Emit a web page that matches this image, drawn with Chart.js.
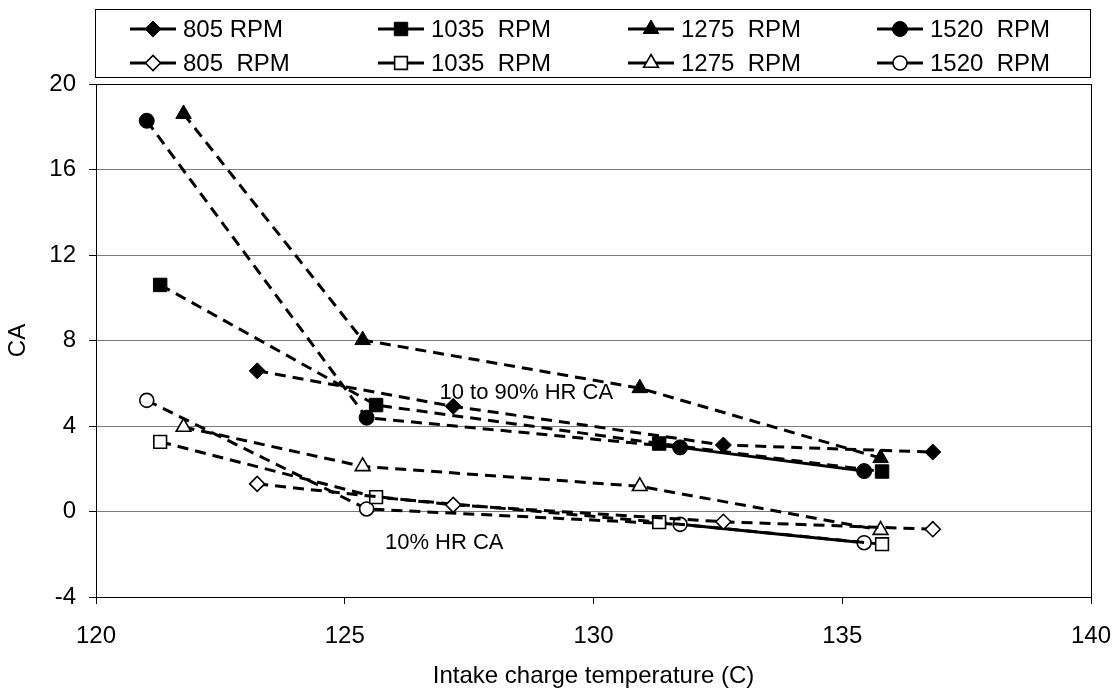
<!DOCTYPE html>
<html><head><meta charset="utf-8">
<script src="https://cdn.jsdelivr.net/npm/chart.js@4.4.1/dist/chart.umd.min.js"></script>
<style>html,body{margin:0;padding:0;background:#fff}#wrap{width:1116px;height:691px;position:relative}</style>
</head><body><div id="wrap"><canvas id="c" width="1116" height="691"></canvas></div>
<script>
// ---- data ----
const temps805  = [123.24, 127.18, 132.61, 136.82];
const temps1035 = [121.29, 125.63, 131.32, 135.80];
const temps1275 = [121.76, 125.36, 130.93, 135.77];
const temps1520 = [121.02, 125.44, 131.74, 135.44];

const hr90_805  = [6.58, 4.92, 3.11, 2.78];
const hr90_1035 = [10.60, 4.98, 3.18, 1.87];
const hr90_1275 = [18.60, 8.02, 5.77, 2.50];
const hr90_1520 = [18.28, 4.39, 3.00, 1.89];

const hr10_805  = [1.29, 0.31, -0.48, -0.83];
const hr10_1035 = [3.26, 0.67, -0.50, -1.53];
const hr10_1275 = [3.95, 2.11, 1.18, -0.87];
const hr10_1520 = [5.20, 0.12, -0.60, -1.46];

const seriesLabels = ['805 RPM','1035  RPM','1275  RPM','1520  RPM','805  RPM','1035  RPM','1275  RPM','1520  RPM'];
const xTickMin = 120, xTickMax = 140, xTickStep = 5;
const yTickMin = -4, yTickMax = 20, yTickStep = 4;
const xTitle = 'Intake charge temperature (C)';
const yTitle = 'CA';
const noteUpper = {text:'10 to 90% HR CA', x:128.65, y:5.55};
const noteLower = {text:'10% HR CA', x:127.0, y:-1.45};

const FONT = '"Liberation Sans", Arial, sans-serif';
const pts = (xs, ys) => xs.map((x,i)=>({x, y: ys[i]}));
const DASH = [11,7];

function mk(label, xs, ys, style, filled, radius, solidLast){
  return {
    label, data: pts(xs, ys), showLine: true,
    borderColor:'#000', borderWidth:3, borderDash: DASH,
    pointStyle: style, pointRadius: radius, pointHoverRadius: radius,
    pointBackgroundColor: filled ? '#000' : '#fff',
    pointBorderColor:'#000', pointBorderWidth: filled ? 1 : 1.6,
    segment: solidLast ? { borderDash: c => c.p0DataIndex === 2 ? [] : DASH } : undefined
  };
}

const datasets = [
  mk(seriesLabels[0], temps805,  hr90_805,  'rectRot',  true, 8),
  mk(seriesLabels[1], temps1035, hr90_1035, 'rect',     true, 9.5),
  mk(seriesLabels[2], temps1275, hr90_1275, 'triangle', true, 9),
  mk(seriesLabels[3], temps1520, hr90_1520, 'circle',   true, 7.5, true),
  mk(seriesLabels[4], temps805,  hr10_805,  'rectRot',  false, 7.5),
  mk(seriesLabels[5], temps1035, hr10_1035, 'rect',     false, 9),
  mk(seriesLabels[6], temps1275, hr10_1275, 'triangle', false, 8.5),
  mk(seriesLabels[7], temps1520, hr10_1520, 'circle',   false, 7, true)
];

function drawMarker(ctx, style, r, x, y){
  ctx.beginPath();
  if (style === 'circle') ctx.arc(x, y, r, 0, Math.PI*2);
  else if (style === 'rect') { const s = Math.SQRT1_2*r; ctx.rect(x-s, y-s, 2*s, 2*s); }
  else if (style === 'rectRot') { ctx.moveTo(x-r,y); ctx.lineTo(x,y-r); ctx.lineTo(x+r,y); ctx.lineTo(x,y+r); ctx.closePath(); }
  else if (style === 'triangle') {
    let a = 0;
    ctx.moveTo(x+Math.sin(a)*r, y-Math.cos(a)*r); a += 2*Math.PI/3;
    ctx.lineTo(x+Math.sin(a)*r, y-Math.cos(a)*r); a += 2*Math.PI/3;
    ctx.lineTo(x+Math.sin(a)*r, y-Math.cos(a)*r); ctx.closePath();
  }
  ctx.fill(); ctx.stroke();
}

const legendCols = [130, 378, 628, 877];
const legendRows = [29, 63];

const framePlugin = {
  id:'frame',
  beforeDatasetsDraw(chart){
    const {ctx, chartArea:a} = chart;
    ctx.save(); ctx.strokeStyle='#000'; ctx.lineWidth=1; ctx.setLineDash([]);
    ctx.strokeRect(Math.round(a.left)+0.5, Math.round(a.top)+0.5, Math.round(a.right-a.left), Math.round(a.bottom-a.top));
    ctx.restore();
  },
  afterDatasetsDraw(chart){
    const {ctx, scales:{x, y}} = chart;
    ctx.save(); ctx.fillStyle='#000'; ctx.font = '22px ' + FONT;
    ctx.textAlign='center'; ctx.textBaseline='middle';
    [noteUpper, noteLower].forEach(n => ctx.fillText(n.text, x.getPixelForValue(n.x), y.getPixelForValue(n.y)));
    ctx.restore();
  },
  afterDraw(chart){
    const ctx = chart.ctx;
    ctx.save();
    ctx.fillStyle='#fff'; ctx.fillRect(95.5, 9.5, 995, 68);
    ctx.strokeStyle='#000'; ctx.lineWidth=1; ctx.setLineDash([]);
    ctx.strokeRect(95.5, 9.5, 995, 68);
    chart.data.datasets.forEach((ds,i)=>{
      const x0 = legendCols[i%4], yy = legendRows[Math.floor(i/4)];
      ctx.setLineDash([]); ctx.strokeStyle='#000'; ctx.lineWidth=3;
      ctx.beginPath(); ctx.moveTo(x0, yy); ctx.lineTo(x0+46, yy); ctx.stroke();
      ctx.fillStyle = ds.pointBackgroundColor; ctx.lineWidth = ds.pointBorderWidth;
      drawMarker(ctx, ds.pointStyle, ds.pointRadius, x0+23, yy);
      ctx.fillStyle='#000'; ctx.font='24px ' + FONT; ctx.textAlign='left'; ctx.textBaseline='middle';
      ctx.fillText(ds.label, x0+53, yy+1);
    });
    ctx.restore();
  }
};

new Chart(document.getElementById('c'), {
  type:'scatter',
  data:{ datasets },
  options:{
    responsive:false, animation:false, devicePixelRatio:1,
    layout:{ padding:{ left:0, top:84, right:25, bottom:0 } },
    plugins:{ legend:{display:false}, tooltip:{enabled:false} },
    scales:{
      x:{
        type:'linear', min:xTickMin, max:xTickMax,
        ticks:{ stepSize:xTickStep, color:'#000', font:{family:FONT, size:24}, padding:18, maxRotation:0 },
        grid:{ drawOnChartArea:false, color:'#000', tickLength:7 },
        border:{ color:'#000', width:1 },
        title:{ display:true, text:xTitle, color:'#000', font:{family:FONT, size:24}, padding:{top:0,bottom:0} },
        afterFit(s){ s.height = 94; s.paddingLeft = 0; s.paddingRight = 0; }
      },
      y:{
        type:'linear', min:yTickMin, max:yTickMax,
        ticks:{ stepSize:yTickStep, color:'#000', font:{family:FONT, size:24}, padding:13 },
        grid:{ color:'#7a7a7a', tickColor:'#000', tickLength:7 },
        border:{ color:'#000', width:1 },
        title:{ display:true, text:yTitle, color:'#000', font:{family:FONT, size:24}, padding:{top:4,bottom:0} },
        afterFit(s){ s.width = 96; s.paddingTop = 0; s.paddingBottom = 0; }
      }
    }
  },
  plugins:[framePlugin]
});
</script></body></html>
